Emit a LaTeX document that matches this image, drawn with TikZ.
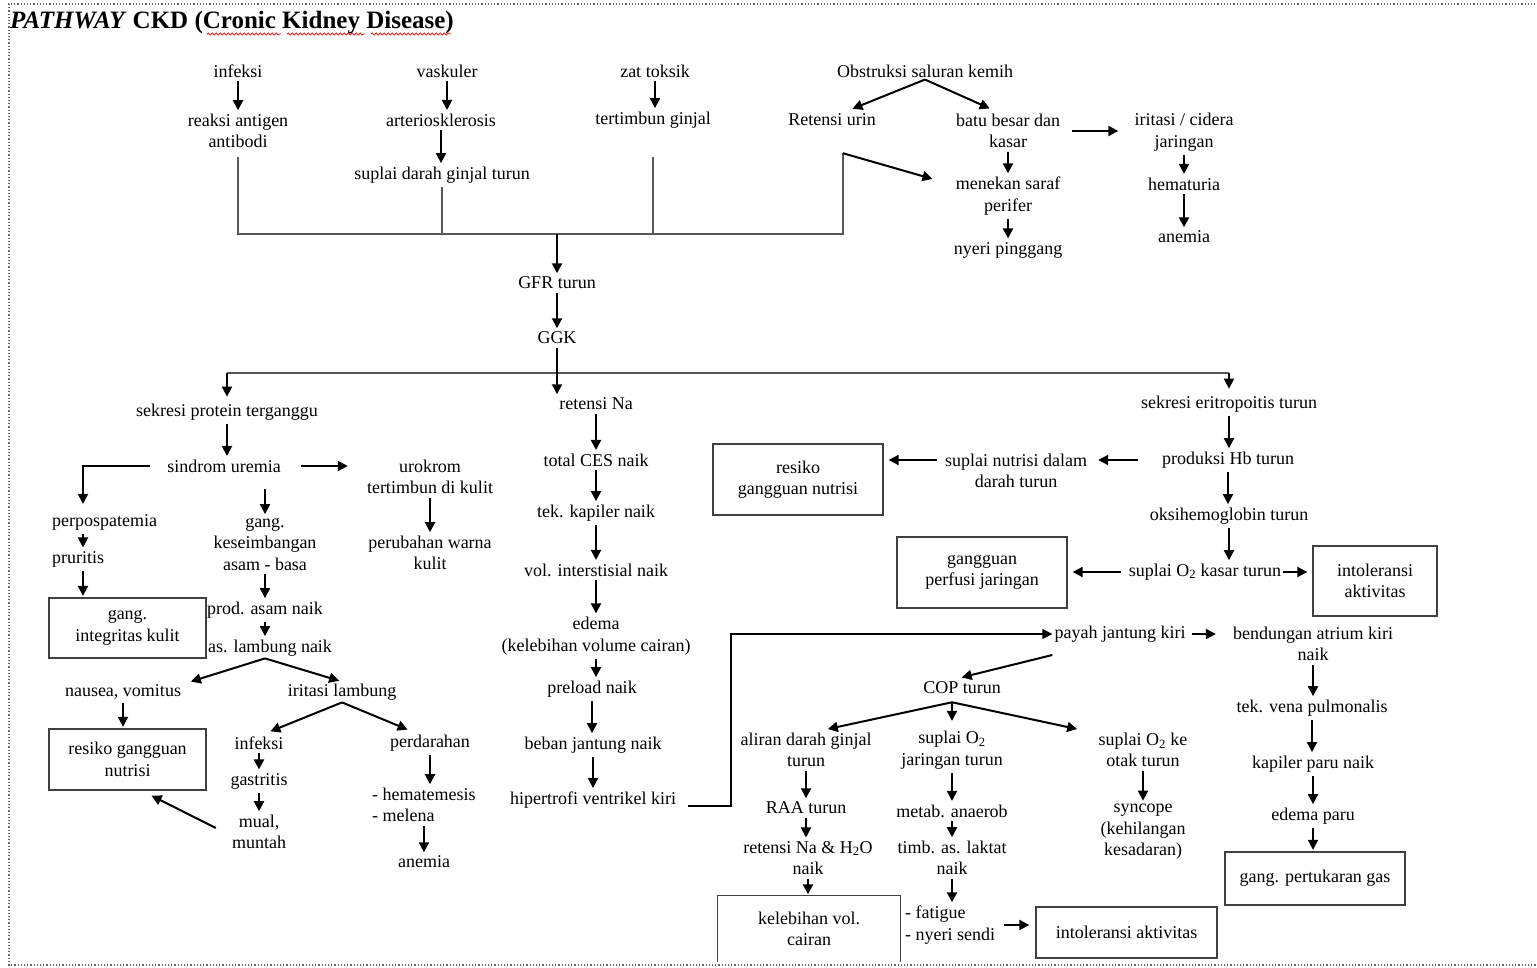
\documentclass[tikz,border=0pt]{standalone}
\usepackage{fontspec}
\setmainfont{Liberation Serif}
\usetikzlibrary{arrows.meta,calc,decorations.pathmorphing}

\begin{document}
\begin{tikzpicture}[x=1pt, y=-1pt,
  every node/.style={font=\fontsize{18}{21.5}\selectfont, align=center, inner sep=2pt},
  arr/.style={line width=2pt, -{Triangle[length=10pt,width=10pt]}, shorten <=1.5pt, shorten >=1.5pt},
  fork/.style={arr, shorten <=0pt, shorten >=8pt},
  link/.style={line width=1.4pt, black!65},
  box/.style={draw=black!75, line width=1.3pt}]
  \useasboundingbox (0,0) rectangle (1537,967);
  % page frame (dotted) and the title with its spell-check squiggles
  \draw[dotted, line width=1.2pt, black!60] (1545,4) -- (9,4) -- (9,965) -- (1545,965);
  \node[anchor=base west, inner sep=0pt, font=\fontsize{25}{30}\selectfont\bfseries] (title) at (10,28)
    {\textit{PATHWAY} CKD (Cronic Kidney Disease)};
  \foreach \a/\b in {207/281, 287/365, 371/451}
    \draw[red, line width=0.7pt, decorate, decoration={snake, amplitude=1.1pt, segment length=4pt}] (\a,34) -- (\b,34);

  % causes, down to GFR turun and GGK
  \node (inf)   at (238,71)  {infeksi};
  \node (vas)   at (447,71)  {vaskuler};
  \node (zat)   at (655,71)  {zat toksik};
  \node (obs)   at (925,71)  {Obstruksi saluran kemih};
  \node (reak)  at (238,131) {reaksi antigen\\antibodi};
  \node (art)   at (441,120) {arteriosklerosis};
  \node (tert)  at (653,120) {tertimbun ginjal};
  \node (ret)   at (832,120) {Retensi urin};
  \node (batu)  at (1008,131) {batu besar dan\\kasar};
  \node (irit)  at (1184,132) {iritasi / cidera\\jaringan};
  \node (supd)  at (442,175) {suplai darah ginjal turun};
  \node (saraf) at (1008,196) {menekan saraf\\perifer};
  \node (hemt)  at (1184,184) {hematuria};
  \node (nyeri) at (1008,250) {nyeri pinggang};
  \node (anem1) at (1184,237) {anemia};
  \node (gfr)   at (557,283) {GFR turun};
  \node (ggk)   at (557,338) {GGK};

  % left branch: sekresi protein terganggu
  \node (sek)   at (227,412) {sekresi protein terganggu};
  \node (sind)  at (224,466) {sindrom uremia};
  \node (urok)  at (430,477) {urokrom\\tertimbun di kulit};
  \node (warna) at (430,553) {perubahan warna\\kulit};
  \node[anchor=west] (perpo) at (50,522) {perpospatemia};
  \node[anchor=west] (prur)  at (50,559) {pruritis};
  \node[box, minimum width=157, minimum height=60] (bkulit) at (127.5,628) {gang.\\integritas kulit};
  \node (gkes)  at (265,544) {gang.\\keseimbangan\\asam - basa};
  \node (prod)  at (265,610) {prod. asam naik};
  \node (lamb)  at (270,648) {as. lambung naik};
  \node (naus)  at (123,692) {nausea, vomitus};
  \node[box, minimum width=157, minimum height=61] (bnutri) at (127.5,759.5) {resiko gangguan\\nutrisi};
  \node (iril)  at (342,692) {iritasi lambung};
  \node (inf2)  at (259,743) {infeksi};
  \node (gast)  at (259,781) {gastritis};
  \node (mual)  at (259,832) {mual,\\muntah};
  \node (perd)  at (430,743) {perdarahan};
  \node[anchor=west, align=left] (hema) at (370,805) {- hematemesis\\- melena};
  \node (anem2) at (424,862) {anemia};

  % middle branch: retensi Na
  \node (retna) at (596,404) {retensi Na};
  \node (ces)   at (596,460) {total CES naik};
  \node (kap)   at (596,513) {tek. kapiler naik};
  \node (intr)  at (596,570) {vol. interstisial naik};
  \node (edema) at (596,636) {edema\\(kelebihan volume cairan)};
  \node (prel)  at (592,689) {preload naik};
  \node (beban) at (593,745) {beban jantung naik};
  \node (hiper) at (593,800) {hipertrofi ventrikel kiri};

  % right branch: sekresi eritropoitis turun
  \node (eri)   at (1229,404) {sekresi eritropoitis turun};
  \node (hb)    at (1228,460) {produksi Hb turun};
  \node (supn)  at (1016,471) {suplai nutrisi dalam\\darah turun};
  \node[box, minimum width=170, minimum height=71] (bresn) at (798,479.5) {resiko\\gangguan nutrisi};
  \node (oksi)  at (1229,516) {oksihemoglobin turun};
  \node (supo)  at (1205,572) {suplai O\textsubscript{2} kasar turun};
  \node[box, minimum width=170, minimum height=71] (bperf) at (982,572.5) {gangguan\\perfusi jaringan};
  \node[box, minimum width=124, minimum height=70] (bintol) at (1375,581) {intoleransi\\aktivitas};
  \node (payah) at (1120,634) {payah jantung kiri};
  \node (bend)  at (1313,644) {bendungan atrium kiri\\naik};
  \node (vena)  at (1312,708) {tek. vena pulmonalis};
  \node (kapp)  at (1313,764) {kapiler paru naik};
  \node (edp)   at (1313,816) {edema paru};
  \node[box, minimum width=180, minimum height=53] (bgas) at (1315,878.5) {gang. pertukaran gas};
  \node (cop)   at (962,688) {COP turun};
  \node (aliran) at (806,750) {aliran darah ginjal\\turun};
  \node (raa)   at (806,808) {RAA turun};
  \node (retnah) at (808,858) {retensi Na \& H\textsubscript{2}O\\naik};
  \node[minimum width=182, minimum height=66] (bkeleb) at (809,929) {kelebihan vol.\\cairan};
  \node (supj)  at (952,750) {suplai O\textsubscript{2}\\jaringan turun};
  \node (metab) at (952,811) {metab. anaerob};
  \node (timb)  at (952,858) {timb. as. laktat\\naik};
  \node[anchor=west, align=left] (fat) at (903,925) {- fatigue\\- nyeri sendi};
  \node[box, minimum width=181, minimum height=51] (bintol2) at (1126.5,932.5) {intoleransi aktivitas};
  \node (otak)  at (1143,750) {suplai O\textsubscript{2} ke\\otak turun};
  \node (sync)  at (1143,832) {syncope\\(kehilangan\\kesadaran)};
  % the last box runs off the bottom of the page, so no bottom edge
  \draw[box] (bkeleb.south west) |- (bkeleb.north east) -- (bkeleb.south east);

  % straight drops, each node to the one under it
  \foreach \a/\b in {inf/reak, vas/art, art/supd, zat/tert, batu/saraf, saraf/nyeri, irit/hemt,
      hemt/anem1, gfr/ggk, sek/sind, urok/warna, gkes/prod, prod/lamb, naus/bnutri, inf2/gast,
      gast/mual, perd/hema, hema/anem2, retna/ces, ces/kap, kap/intr, intr/edema, edema/prel,
      prel/beban, beban/hiper, eri/hb, hb/oksi, oksi/supo, bend/vena, vena/kapp, kapp/edp,
      edp/bgas, aliran/raa, raa/retnah, retnah/bkeleb, supj/metab, metab/timb, timb/fat, otak/sync}
    \draw[arr] (\a) -- (\a |- \b.north);

  % collector of the four causes into GFR turun
  \coordinate (jn) at (557,234);
  \coordinate (retb) at ([xshift=11pt, yshift=-25pt]ret.south);
  \draw[link] ([yshift=-7pt]reak.south) |- (retb |- jn) -- (retb);
  \draw[link] ([yshift=-2pt]supd.south) -- (supd.south |- jn);
  \draw[link] ([yshift=-27pt]tert.south) -- (tert.south |- jn);
  \draw[arr, shorten <=0pt] (jn) -- (gfr);
  \draw[fork] (obs.south) -- ([xshift=13pt]ret.north);
  \draw[fork] (obs.south) -- ([xshift=-11pt]batu.north);
  \draw[fork, shorten >=22pt] (retb) -- ([yshift=11pt]saraf.west);
  \draw[arr, shorten <=10pt, shorten >=14pt] (batu.east) -- (batu.east -| irit.west);

  % GGK spreads over the three branches
  \coordinate (bus) at (557,373);
  \draw[link] (sek |- bus) -- (eri |- bus);
  \foreach \n in {sek, eri}
    \draw[arr, shorten <=0pt, shorten >=5pt] (\n |- bus) -- (\n);
  \draw[arr] (ggk) -- (ggk |- retna.north);

  % left branch links
  \draw[arr, shorten <=18pt, shorten >=17pt] (sind.east) -- (sind.east -| urok.west);
  \draw[arr, shorten <=15pt, shorten >=8pt] (sind.west) -| ([xshift=33pt]perpo.north west);
  \draw[arr] ([xshift=33pt]perpo.south west) -- ([xshift=33pt]prur.north west);
  \draw[arr] ([xshift=33pt]prur.south west) -- ([xshift=33pt]prur.south west |- bkulit.north);
  \draw[arr, shorten <=14pt] (gkes.north |- sind.south) -- (gkes.north);
  \draw[fork, shorten >=3pt] ([xshift=-5pt]lamb.south) -- ([xshift=65pt]naus.north);
  \draw[fork, shorten >=3pt] ([xshift=-5pt]lamb.south) -- (iril.north);
  \draw[fork] (iril.south) -- ([xshift=4pt]inf2.north);
  \draw[fork] (iril.south) -- ([xshift=-15pt]perd.north);
  \draw[fork, shorten >=0pt] ([xshift=-14pt, yshift=4pt]mual.west) -- ([xshift=24pt, yshift=-5pt]bnutri.south);

  % right branch links
  \draw[arr, shorten <=22pt, shorten >=9pt] (hb.west) -- (hb.west -| supn.east);
  \draw[arr, shorten <=6pt, shorten >=5pt] (supn.west |- hb) -- (bresn.east |- hb);
  \draw[arr, shorten <=6pt, shorten >=5pt] (supo.west) -- (supo.west -| bperf.east);
  \draw[arr, shorten <=0pt, shorten >=5pt] (supo.east) -- (supo.east -| bintol.west);
  \draw[arr, shorten <=4pt, shorten >=15pt] (payah.east) -- (payah.east -| bend.west);
  \draw[arr, shorten <=7pt, shorten >=6pt] (fat.east) -- (fat.east -| bintol2.west);
  \draw[line width=1.6pt, -{Triangle[length=10pt,width=10pt]}]
    ([xshift=10pt, yshift=-6pt]hiper.east) -- ++(43,0) |- (payah.west);
  \draw[fork, shorten >=10pt] ([yshift=-21pt]payah.west) -- ([xshift=-10pt]cop.north);
  \coordinate (copf) at ([xshift=-10pt, yshift=-6pt]cop.south);
  \draw[fork] (copf) -- ([xshift=14pt]aliran.north);
  \draw[fork] (copf) -- (supj.north);
  \draw[fork] (copf) -- ([xshift=-58pt]otak.north);
\end{tikzpicture}
\end{document}
